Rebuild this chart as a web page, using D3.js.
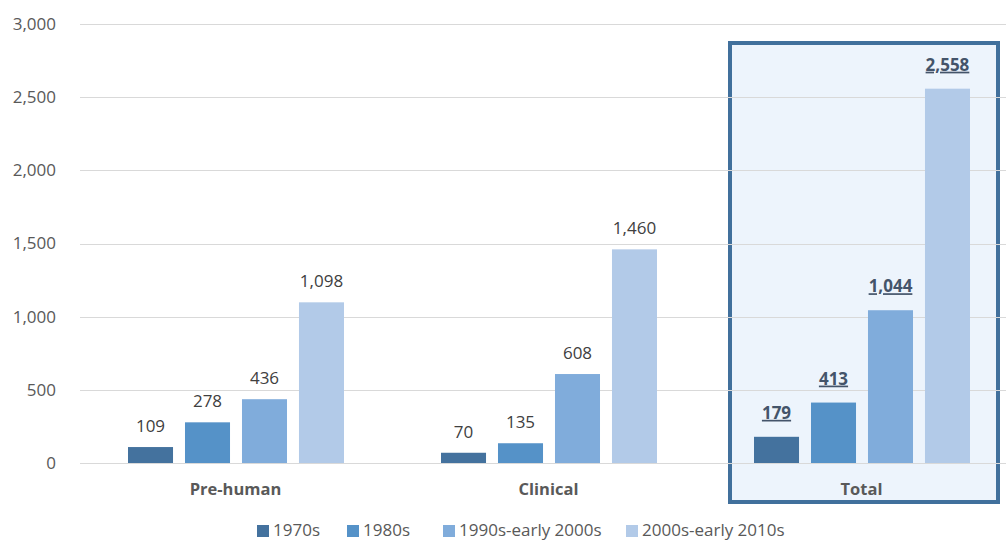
<!DOCTYPE html>
<html><head><meta charset="utf-8">
<script src="https://cdn.jsdelivr.net/npm/d3@7"></script>
<style>body{margin:0;background:#fff}svg{display:block}text{font-family:"Open Sans",sans-serif}</style>
</head><body><svg id="c" width="1006" height="541"></svg>
<script>
const categories = ["Pre-human", "Clinical", "Total"];
const seriesNames = ["1970s", "1980s", "1990s-early 2000s", "2000s-early 2010s"];
const values = {
  "1970s": [109, 70, 179],
  "1980s": [278, 135, 413],
  "1990s-early 2000s": [436, 608, 1044],
  "2000s-early 2010s": [1098, 1460, 2558]
};
const yTicks = [0, 500, 1000, 1500, 2000, 2500, 3000];
const colors = ["#44729E", "#5592C8", "#80ACDB", "#B2CAE8"];

const svg = d3.select("#c");
const y = d3.scaleLinear().domain([0, 3000]).range([463, 24]);
const x0 = d3.scaleBand().domain(categories).range([80, 1019]).paddingInner(0).paddingOuter(0);
const x1 = d3.scaleBand().domain(seriesNames).range([-108.5, 107.5]).paddingInner(0.21);
const fmt = d3.format(",");

// highlight box for Total
svg.append("rect").attr("x", 730).attr("y", 43).attr("width", 268).attr("height", 459)
  .attr("fill", "#EDF4FC").attr("stroke", "#41709C").attr("stroke-width", 4);

// grid
svg.append("g").selectAll("line").data(yTicks).join("line")
  .attr("x1", 80).attr("x2", 1006).attr("y1", d => Math.round(y(d))+0.5).attr("y2", d => Math.round(y(d))+0.5)
  .attr("stroke", "#D9D9D9").attr("stroke-width", 1);

// y axis labels
const yAxis = d3.axisLeft(y).tickValues(yTicks).tickFormat(fmt).tickSize(0).tickPadding(0);
const ya = svg.append("g").attr("transform", "translate(56,0)").call(yAxis);
ya.select(".domain").remove();
ya.selectAll("text").attr("font-size", 17).attr("fill", "#595959").attr("font-family", "Open Sans, sans-serif");

// bars
seriesNames.forEach((s, si) => {
  const g = svg.append("g");
  categories.forEach((c, ci) => {
    const v = values[s][ci];
    const cx = x0(c) + x0.bandwidth()/2;
    const bx = cx + x1(s);
    g.append("rect").attr("x", bx).attr("y", y(v)).attr("width", x1.bandwidth()).attr("height", y(0) - y(v))
      .attr("fill", colors[si]);
    const isTotal = c === "Total";
    g.append("text").attr("x", bx + x1.bandwidth()/2).attr("y", y(v) - (isTotal ? 18 : 15))
      .attr("text-anchor", "middle").attr("font-size", 17)
      .attr("font-weight", isTotal ? 700 : 400)
      .attr("text-decoration", isTotal ? "underline" : null)
      .attr("fill", isTotal ? "#44546A" : "#404040").text(fmt(v));
  });
});

// category labels
svg.append("g").selectAll("text").data(categories).join("text")
  .attr("x", d => x0(d) + x0.bandwidth()/2 - 1).attr("y", 495)
  .attr("text-anchor", "middle").attr("font-size", 16.5).attr("font-weight", 700)
  .attr("fill", "#595959").text(d => d);

// legend
const legX = [257, 347, 443, 626];
const lg = svg.append("g");
seriesNames.forEach((s, i) => {
  lg.append("rect").attr("x", legX[i]).attr("y", 525).attr("width", 12).attr("height", 12).attr("fill", colors[i]);
  lg.append("text").attr("x", legX[i] + 16).attr("y", 536).attr("font-size", 17).attr("fill", "#595959").text(s);
});
</script></body></html>
